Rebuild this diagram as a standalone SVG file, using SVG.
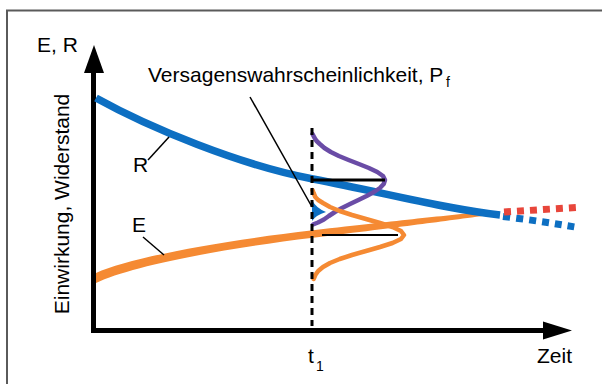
<svg xmlns="http://www.w3.org/2000/svg" width="602" height="384" viewBox="0 0 602 384">
<style>
text{font-family:"Liberation Sans",Arial,sans-serif;font-size:21px;fill:#000}
.sub{font-size:14px}
.ax{stroke:#000;stroke-width:5;fill:none}
.lead{stroke:#000;stroke-width:1.5;fill:none}
.dist{fill:none;stroke-width:4.5;stroke-linejoin:round;stroke-linecap:round}
</style>
<rect x="0" y="0" width="602" height="384" fill="#fff"/>
<path d="M7,385 V10.5 H603" fill="none" stroke="#5a5a5a" stroke-width="2"/>
<g id="axes">
<line class="ax" x1="93.5" y1="333" x2="93.5" y2="68"/>
<polygon points="84,73 94,45 104,73" fill="#000"/>
<line class="ax" x1="91" y1="330.5" x2="546" y2="330.5"/>
<polygon points="543,321.5 572,330.5 543,339.5" fill="#000"/>
<text x="37" y="52">E, R</text>
<text transform="translate(68.5,204) rotate(-90)" text-anchor="middle">Einwirkung, Widerstand</text>
<text x="308" y="363">t</text><text class="sub" x="316" y="371">1</text>
<text x="537" y="363">Zeit</text>
</g>
<g id="E-curve">
<path d="M96,273 C130,257.5 220,241 313,230.3 C406,219.6 440,216.3 490,211 L490,215 C440,221.7 406,226.4 313,237.7 C220,249 130,266.5 96,283 Z" fill="#f58a33"/>
</g>
<g id="R-curve">
<path d="M96,98 C150,128 240,165 313,179 S440,208 500,215" fill="none" stroke="#0d6fc2" stroke-width="7.5"/>
<path d="M503,216.5 Q540,221 575,227" fill="none" stroke="#0d6fc2" stroke-width="7" stroke-dasharray="7,6"/>
<path d="M504,212 L576,207.5" fill="none" stroke="#e8463b" stroke-width="7" stroke-dasharray="7,6"/>
</g>
<g id="R-distribution">
<path class="dist" stroke="#6a4ca6" d="M312.5,134 L314.6,138 316.6,141 319.8,144 324.4,148 330.8,152 338.9,156 348.6,160 358.9,164 368.9,168 377.3,172 383,176 385,180 383.7,184 379.9,188 374,192 366.6,196 358.4,200 350,204 342,208 334.9,212 328.8,216 323.9,219.5 318,222.5 313,224.5"/>
<line x1="312" y1="180" x2="385" y2="180" stroke="#000" stroke-width="3"/>
</g>
<g id="E-distribution">
<path class="dist" stroke="#f58a33" d="M312.5,190 L313.6,193 315.3,197 318.2,200 323,203 330,207 339.7,211 352,215 366,219 380,223 392.5,227 401,231 404,235 401,239 392.5,243 380,247 366,251 352,255 339.7,259 330,263 323,267 318.2,271 315.3,275 313.6,279"/>
<line x1="322" y1="235" x2="398" y2="235" stroke="#000" stroke-width="2"/>
</g>
<g id="failure-area">
<path d="M312,200 Q316,208 326,212 Q316,215 312,221 Z" fill="#0d6fc2"/>
</g>
<g id="t1-line">
<line x1="312" y1="128" x2="312" y2="326" stroke="#000" stroke-width="3" stroke-dasharray="7,5"/>
</g>
<g id="labels">
<text x="148" y="82">Versagenswahrscheinlichkeit, P</text><text class="sub" x="446" y="87">f</text>
<line class="lead" x1="250" y1="97" x2="312" y2="207"/>
<text x="133" y="172">R</text>
<line class="lead" x1="148" y1="160" x2="169" y2="137"/>
<text x="132" y="232">E</text>
<line class="lead" x1="143" y1="237" x2="164" y2="255"/>
</g>
</svg>
